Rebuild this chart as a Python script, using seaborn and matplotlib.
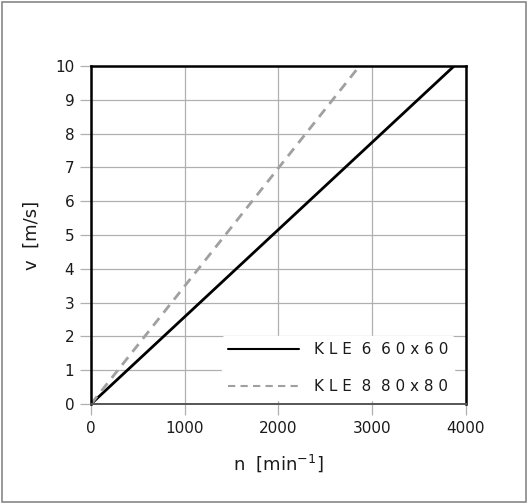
import matplotlib
matplotlib.use("Agg")
import matplotlib.pyplot as plt
import pandas as pd
import seaborn as sns

# speed n [min^-1] vs circumferential velocity v [m/s]
n_kle6 = [0, 3875]
v_kle6 = [0, 10]
n_kle8 = [0, 2865]
v_kle8 = [0, 10]
labels = ["KLE 6 60x60", "KLE 8 80x80"]
x_ticks = [0, 1000, 2000, 3000, 4000]
y_ticks = list(range(0, 11))

df = pd.concat([
    pd.DataFrame({"n": n_kle6, "v": v_kle6, "series": labels[0]}),
    pd.DataFrame({"n": n_kle8, "v": v_kle8, "series": labels[1]}),
])

sns.set_theme(style="white")
plt.rcParams["font.family"] = ["DejaVu Sans"]

fig = plt.figure(figsize=(5.27, 5.03), dpi=100)
ax = fig.add_axes([0.1727, 0.1968, 0.7113, 0.672])

sns.lineplot(data=df, x="n", y="v", hue="series", style="series",
             palette={labels[0]: "black", labels[1]: "#a0a0a0"},
             dashes={labels[0]: "", labels[1]: (3.5, 2.5)},
             sort=False, ax=ax)
for line in ax.lines[:2]:
    line.set_linewidth(2.0)

ax.set_xlim(0, 4000)
ax.set_ylim(0, 10)
ax.set_xticks(x_ticks)
ax.set_yticks(y_ticks)
ax.grid(True, color="#b0b0b0", linewidth=0.9)
ax.set_axisbelow(True)
ax.tick_params(axis="both", direction="out", length=8, width=0.9,
               color="#b0b0b0", labelsize=11, labelcolor="#1a1a1a", pad=4,
               left=True, bottom=True)
for side in ["left", "right", "top"]:
    ax.spines[side].set_color("black")
    ax.spines[side].set_linewidth(1.8)
ax.spines["bottom"].set_color("#555555")
ax.spines["bottom"].set_linewidth(1.4)

ax.set_xlabel("n  [min$^{-1}$]", fontsize=13, color="#1a1a1a", labelpad=12)
ax.set_ylabel("v  [m/s]", fontsize=13, color="#1a1a1a", labelpad=10)

handles, _ = ax.get_legend_handles_labels()
leg = ax.legend(handles=handles[-2:], labels=["K L E  6  6 0 x 6 0", "K L E  8  8 0 x 8 0"],
                loc="lower right", bbox_to_anchor=(0.99, -0.012),
                handlelength=4.6, handletextpad=1.0, fontsize=11,
                frameon=True, framealpha=1.0, edgecolor="white",
                facecolor="white", borderpad=0.4, labelspacing=1.45)
for t in leg.get_texts():
    t.set_color("#1a1a1a")

fig.patches.append(plt.Rectangle((0.004, 0.002), 0.994, 0.994, transform=fig.transFigure,
                                 fill=False, edgecolor="#888888", linewidth=1.2))

fig.savefig("out.png", dpi=100)
